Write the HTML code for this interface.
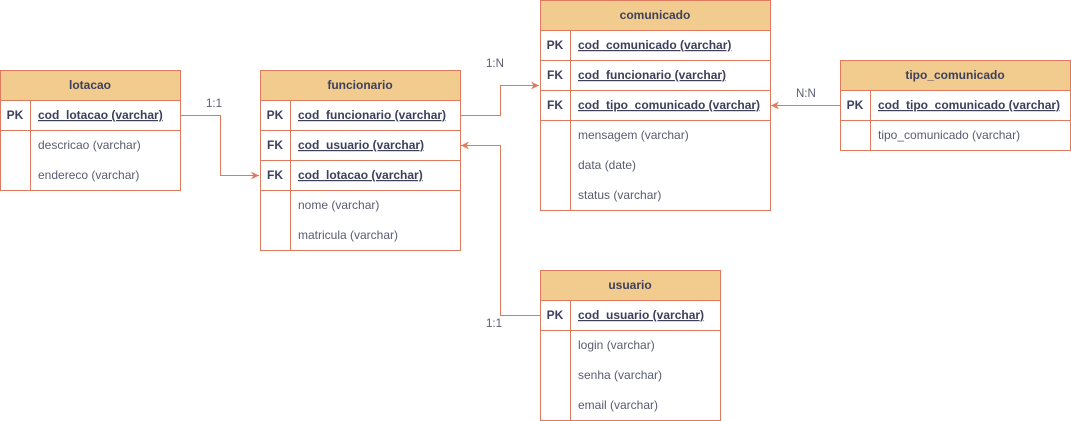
<!DOCTYPE html>
<html><head><meta charset="utf-8"><style>
html,body{margin:0;padding:0;background:#fff;}
svg{display:block;font-family:"Liberation Sans",Arial,sans-serif;font-size:12px;}
.h{fill:#F2CC8F;stroke:#E07A5F;stroke-width:1}
.b{fill:#fff;stroke:#E07A5F;stroke-width:1}
.l{stroke:#E07A5F;stroke-width:1;fill:none}
.ht{fill:#3D405B;text-anchor:middle;font-weight:bold}
.k{fill:#3D405B;text-decoration:underline;font-weight:bold}
.kl{fill:#3D405B;text-anchor:middle;font-weight:bold}
.a{fill:#5A5C70}
.lab{fill:#5A5C70;font-size:11.5px}
</style></head><body>
<svg width="1071" height="421" viewBox="0 0 1071 421">
<defs><marker id="ar" markerWidth="10" markerHeight="10" refX="8" refY="5" orient="auto" markerUnits="userSpaceOnUse"><path d="M0,1 L8,5 L0,9 L2.5,5 Z" fill="#E07A5F"/></marker></defs>

<path class="l" d="M180.5,115.5 H220.5 V175.5 H259" marker-end="url(#ar)"/>
<path class="l" d="M460.5,115.5 H500.5 V85.5 H539" marker-end="url(#ar)"/>
<path class="l" d="M840.5,105.5 H771" marker-end="url(#ar)"/>
<path class="l" d="M540.5,315.5 H500.5 V145.5 H461" marker-end="url(#ar)"/>
<text class="lab" x="206" y="107">1:1</text>
<text class="lab" x="486" y="67">1:N</text>
<text class="lab" x="796" y="97">N:N</text>
<text class="lab" x="486" y="327">1:1</text>

<rect class="b" x="0.5" y="70.5" width="180" height="120"/>
<rect class="h" x="0.5" y="70.5" width="180" height="30"/>
<line class="l" x1="30.5" y1="100.5" x2="30.5" y2="190.5"/>
<line class="l" x1="0.5" y1="130.5" x2="180.5" y2="130.5"/>
<text class="ht" x="90" y="89">lotacao</text>
<text class="kl" x="15" y="119">PK</text>
<text class="k" x="38" y="119">cod_lotacao (varchar)</text>
<text class="a" x="38" y="149">descricao (varchar)</text>
<text class="a" x="38" y="179">endereco (varchar)</text>

<rect class="b" x="260.5" y="70.5" width="200" height="180"/>
<rect class="h" x="260.5" y="70.5" width="200" height="30"/>
<line class="l" x1="290.5" y1="100.5" x2="290.5" y2="250.5"/>
<line class="l" x1="260.5" y1="130.5" x2="460.5" y2="130.5"/>
<line class="l" x1="260.5" y1="160.5" x2="460.5" y2="160.5"/>
<line class="l" x1="260.5" y1="190.5" x2="460.5" y2="190.5"/>
<text class="ht" x="360" y="89">funcionario</text>
<text class="kl" x="275" y="119">PK</text>
<text class="k" x="298" y="119">cod_funcionario (varchar)</text>
<text class="kl" x="275" y="149">FK</text>
<text class="k" x="298" y="149">cod_usuario (varchar)</text>
<text class="kl" x="275" y="179">FK</text>
<text class="k" x="298" y="179">cod_lotacao (varchar)</text>
<text class="a" x="298" y="209">nome (varchar)</text>
<text class="a" x="298" y="239">matricula (varchar)</text>

<rect class="b" x="540.5" y="0.5" width="230" height="210"/>
<rect class="h" x="540.5" y="0.5" width="230" height="30"/>
<line class="l" x1="570.5" y1="30.5" x2="570.5" y2="210.5"/>
<line class="l" x1="540.5" y1="60.5" x2="770.5" y2="60.5"/>
<line class="l" x1="540.5" y1="90.5" x2="770.5" y2="90.5"/>
<line class="l" x1="540.5" y1="120.5" x2="770.5" y2="120.5"/>
<text class="ht" x="655" y="19">comunicado</text>
<text class="kl" x="555" y="49">PK</text>
<text class="k" x="578" y="49">cod_comunicado (varchar)</text>
<text class="kl" x="555" y="79">FK</text>
<text class="k" x="578" y="79">cod_funcionario (varchar)</text>
<text class="kl" x="555" y="109">FK</text>
<text class="k" x="578" y="109">cod_tipo_comunicado (varchar)</text>
<text class="a" x="578" y="139">mensagem (varchar)</text>
<text class="a" x="578" y="169">data (date)</text>
<text class="a" x="578" y="199">status (varchar)</text>

<rect class="b" x="840.5" y="60.5" width="230" height="90"/>
<rect class="h" x="840.5" y="60.5" width="230" height="30"/>
<line class="l" x1="870.5" y1="90.5" x2="870.5" y2="150.5"/>
<line class="l" x1="840.5" y1="120.5" x2="1070.5" y2="120.5"/>
<text class="ht" x="955" y="79">tipo_comunicado</text>
<text class="kl" x="855" y="109">PK</text>
<text class="k" x="878" y="109">cod_tipo_comunicado (varchar)</text>
<text class="a" x="878" y="139">tipo_comunicado (varchar)</text>

<rect class="b" x="540.5" y="270.5" width="180" height="150"/>
<rect class="h" x="540.5" y="270.5" width="180" height="30"/>
<line class="l" x1="570.5" y1="300.5" x2="570.5" y2="420.5"/>
<line class="l" x1="540.5" y1="330.5" x2="720.5" y2="330.5"/>
<text class="ht" x="630" y="289">usuario</text>
<text class="kl" x="555" y="319">PK</text>
<text class="k" x="578" y="319">cod_usuario (varchar)</text>
<text class="a" x="578" y="349">login (varchar)</text>
<text class="a" x="578" y="379">senha (varchar)</text>
<text class="a" x="578" y="409">email (varchar)</text>
</svg>
</body></html>
